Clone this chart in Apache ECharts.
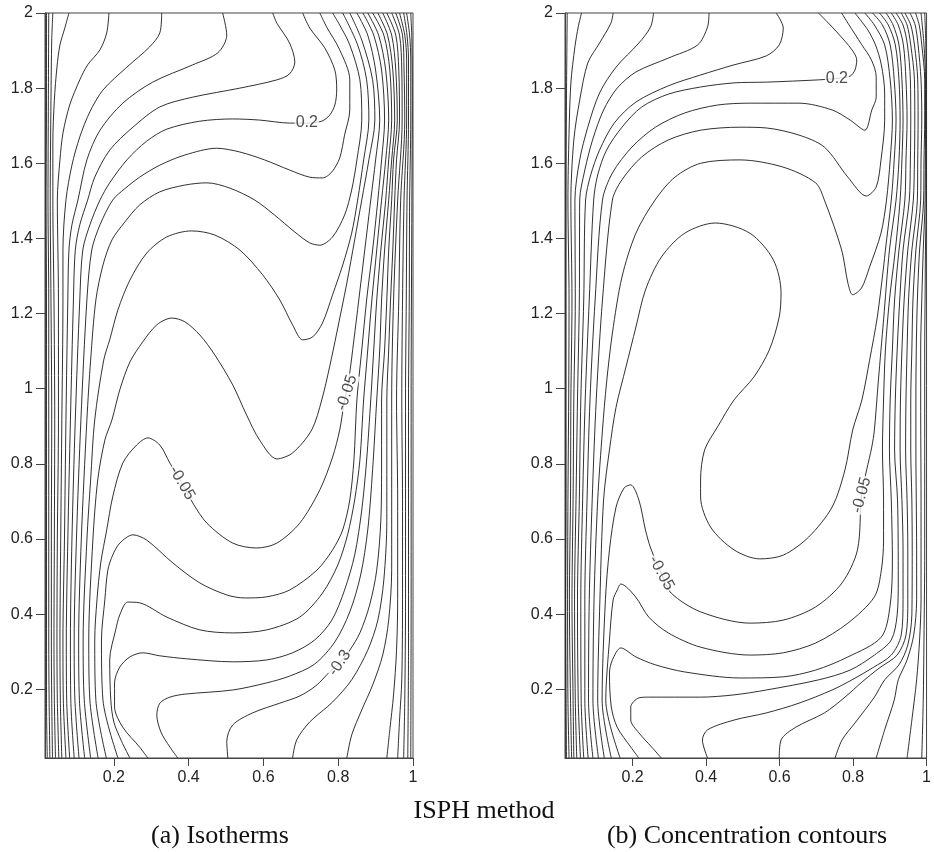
<!DOCTYPE html>
<html>
<head>
<meta charset="utf-8">
<script src="https://cdn.jsdelivr.net/npm/echarts@6/dist/echarts.min.js"></script>
<style>
html, body { margin: 0; padding: 0; background: #fff; }
#chart { width: 934px; height: 852px; }
</style>
</head>
<body>
<div id="chart"></div>
<script>
var xTicks = [0.2, 0.4, 0.6, 0.8, 1];
var yTicks = [0.2, 0.4, 0.6, 0.8, 1, 1.2, 1.4, 1.6, 1.8, 2];

// (a) isotherms: every contour as [x, y] points, left wall to right wall
var isothermLines = [
  [[0.022,0.017],[0.020,0.171],[0.020,0.331],[0.020,0.597],[0.020,0.917],[0.020,1.236],[0.019,1.502],[0.020,1.768],[0.020,2]],
  [[0.029,0.017],[0.027,0.171],[0.026,0.331],[0.026,0.597],[0.026,0.917],[0.026,1.236],[0.024,1.502],[0.025,1.768],[0.026,2]],
  [[0.036,0.017],[0.034,0.171],[0.033,0.331],[0.033,0.597],[0.034,0.917],[0.032,1.236],[0.030,1.502],[0.032,1.768],[0.034,1.928],[0.037,2]],
  [[0.044,0.017],[0.041,0.171],[0.040,0.331],[0.041,0.597],[0.042,0.917],[0.040,1.236],[0.037,1.502],[0.037,1.654],[0.041,1.768],[0.048,1.856],[0.056,1.915],[0.069,1.960],[0.080,2]],
  [[0.053,0.017],[0.049,0.171],[0.048,0.331],[0.049,0.597],[0.052,0.917],[0.052,1.236],[0.049,1.502],[0.056,1.609],[0.064,1.680],[0.082,1.755],[0.109,1.822],[0.130,1.862],[0.163,1.902],[0.181,1.947],[0.187,2]],
  [[0.061,0.017],[0.057,0.171],[0.056,0.331],[0.058,0.597],[0.061,0.917],[0.064,1.236],[0.064,1.369],[0.072,1.502],[0.088,1.595],[0.109,1.670],[0.136,1.737],[0.171,1.795],[0.235,1.856],[0.296,1.910],[0.323,1.947],[0.328,2]],
  [[0.072,0.017],[0.065,0.171],[0.064,0.331],[0.068,0.597],[0.072,0.917],[0.077,1.236],[0.080,1.369],[0.088,1.436],[0.104,1.502],[0.128,1.609],[0.163,1.688],[0.224,1.760],[0.304,1.816],[0.411,1.862],[0.478,1.894],[0.502,1.941],[0.491,2]],
  [[0.082,0.017],[0.074,0.171],[0.073,0.331],[0.077,0.597],[0.084,0.917],[0.092,1.236],[0.097,1.369],[0.109,1.436],[0.130,1.502],[0.149,1.563],[0.189,1.635],[0.251,1.696],[0.323,1.750],[0.411,1.776],[0.537,1.800],[0.636,1.822],[0.670,1.838],[0.684,1.869],[0.670,1.920],[0.636,1.973],[0.625,2]],
  [[0.094,0.017],[0.085,0.171],[0.084,0.331],[0.088,0.597],[0.097,0.917],[0.109,1.236],[0.117,1.369],[0.136,1.436],[0.163,1.502],[0.189,1.548],[0.235,1.609],[0.288,1.659],[0.342,1.691],[0.430,1.712],[0.518,1.718],[0.590,1.715],[0.670,1.707],[0.716,1.707],[0.756,1.712],[0.777,1.728],[0.791,1.755],[0.796,1.795],[0.791,1.848],[0.764,1.907],[0.724,1.960],[0.705,2]],
  [[0.107,0.017],[0.096,0.171],[0.094,0.331],[0.100,0.597],[0.112,0.917],[0.128,1.236],[0.141,1.369],[0.163,1.436],[0.197,1.502],[0.229,1.532],[0.269,1.563],[0.323,1.595],[0.390,1.622],[0.475,1.640],[0.537,1.630],[0.603,1.609],[0.670,1.582],[0.724,1.563],[0.758,1.561],[0.783,1.577],[0.804,1.614],[0.817,1.675],[0.831,1.742],[0.831,1.822],[0.804,1.902],[0.769,1.963],[0.751,2]],
  [[0.122,0.017],[0.108,0.171],[0.106,0.331],[0.113,0.597],[0.128,0.917],[0.138,1.076],[0.152,1.236],[0.171,1.329],[0.195,1.396],[0.229,1.443],[0.269,1.489],[0.323,1.524],[0.390,1.542],[0.449,1.548],[0.510,1.534],[0.577,1.502],[0.630,1.462],[0.684,1.417],[0.724,1.388],[0.751,1.382],[0.785,1.404],[0.817,1.462],[0.836,1.529],[0.850,1.609],[0.863,1.715],[0.858,1.822],[0.831,1.915],[0.804,1.968],[0.785,2]],
  [[0.138,0.017],[0.121,0.171],[0.118,0.331],[0.128,0.597],[0.138,0.757],[0.149,0.917],[0.173,1.076],[0.189,1.130],[0.211,1.210],[0.243,1.289],[0.288,1.361],[0.342,1.404],[0.408,1.420],[0.470,1.409],[0.537,1.369],[0.598,1.303],[0.644,1.236],[0.678,1.170],[0.705,1.130],[0.732,1.138],[0.758,1.175],[0.785,1.250],[0.812,1.329],[0.836,1.414],[0.852,1.502],[0.868,1.609],[0.882,1.715],[0.876,1.822],[0.852,1.915],[0.812,2]],
  [[0.158,0.017],[0.136,0.171],[0.133,0.331],[0.144,0.597],[0.157,0.757],[0.176,0.863],[0.195,0.917],[0.216,0.997],[0.243,1.071],[0.277,1.124],[0.315,1.170],[0.355,1.188],[0.390,1.178],[0.430,1.143],[0.470,1.090],[0.518,1.010],[0.555,0.930],[0.590,0.863],[0.636,0.813],[0.678,0.829],[0.729,0.890],[0.756,0.970],[0.777,1.058],[0.796,1.148],[0.823,1.281],[0.844,1.396],[0.863,1.502],[0.882,1.609],[0.898,1.715],[0.892,1.822],[0.863,1.928],[0.831,2]],
  [[0.180,0.017],[0.152,0.171],[0.149,0.331],[0.155,0.438],[0.165,0.536],[0.181,0.624],[0.197,0.712],[0.224,0.802],[0.261,0.850],[0.291,0.869],[0.323,0.850],[0.350,0.802],[0.382,0.749],[0.411,0.696],[0.449,0.642],[0.518,0.589],[0.582,0.576],[0.636,0.589],[0.697,0.642],[0.751,0.731],[0.785,0.818],[0.804,0.890],[0.817,0.970],[0.828,1.023],[0.842,1.130],[0.855,1.236],[0.871,1.369],[0.887,1.502],[0.900,1.609],[0.911,1.715],[0.900,1.848],[0.879,1.941],[0.850,2]],
  [[0.211,0.017],[0.171,0.171],[0.167,0.331],[0.176,0.438],[0.184,0.517],[0.197,0.557],[0.216,0.589],[0.251,0.611],[0.288,0.597],[0.358,0.536],[0.430,0.483],[0.502,0.451],[0.550,0.443],[0.609,0.446],[0.670,0.464],[0.743,0.517],[0.785,0.571],[0.812,0.624],[0.831,0.704],[0.842,0.810],[0.850,0.970],[0.863,1.103],[0.876,1.236],[0.892,1.369],[0.906,1.502],[0.916,1.609],[0.924,1.715],[0.916,1.848],[0.895,1.941],[0.866,2]],
  [[0.243,0.017],[0.221,0.061],[0.200,0.113],[0.192,0.171],[0.189,0.278],[0.205,0.358],[0.216,0.398],[0.237,0.432],[0.269,0.430],[0.342,0.392],[0.430,0.358],[0.518,0.350],[0.609,0.358],[0.697,0.392],[0.758,0.456],[0.799,0.531],[0.825,0.611],[0.844,0.704],[0.858,0.810],[0.868,0.970],[0.879,1.103],[0.890,1.236],[0.903,1.369],[0.916,1.502],[0.927,1.609],[0.935,1.715],[0.927,1.848],[0.908,1.941],[0.879,2]],
  [[0.291,0.017],[0.269,0.046],[0.224,0.099],[0.202,0.153],[0.202,0.217],[0.216,0.259],[0.243,0.286],[0.277,0.297],[0.323,0.289],[0.395,0.281],[0.518,0.273],[0.609,0.278],[0.678,0.297],[0.737,0.331],[0.783,0.384],[0.817,0.464],[0.844,0.557],[0.863,0.677],[0.876,0.810],[0.887,0.970],[0.895,1.103],[0.903,1.236],[0.914,1.369],[0.927,1.502],[0.935,1.609],[0.943,1.715],[0.938,1.848],[0.922,1.941],[0.892,2]],
  [[0.371,0.017],[0.350,0.046],[0.326,0.086],[0.315,0.131],[0.323,0.163],[0.350,0.179],[0.390,0.187],[0.518,0.198],[0.609,0.217],[0.670,0.235],[0.737,0.267],[0.791,0.326],[0.831,0.406],[0.860,0.504],[0.879,0.624],[0.892,0.784],[0.903,0.970],[0.911,1.103],[0.916,1.236],[0.924,1.369],[0.935,1.502],[0.943,1.609],[0.951,1.715],[0.946,1.848],[0.932,1.941],[0.906,2]],
  [[0.505,0.017],[0.502,0.061],[0.518,0.105],[0.571,0.137],[0.644,0.163],[0.697,0.182],[0.740,0.209],[0.777,0.246],[0.804,0.270],[0.831,0.304],[0.858,0.350],[0.884,0.424],[0.903,0.517],[0.914,0.650],[0.916,0.810],[0.916,0.970],[0.924,1.103],[0.930,1.236],[0.935,1.369],[0.943,1.502],[0.948,1.609],[0.958,1.715],[0.954,1.848],[0.943,1.941],[0.919,2]],
  [[0.678,0.017],[0.689,0.065],[0.724,0.113],[0.785,0.166],[0.836,0.225],[0.879,0.304],[0.906,0.384],[0.922,0.491],[0.930,0.650],[0.930,0.810],[0.930,0.970],[0.935,1.103],[0.940,1.236],[0.946,1.369],[0.951,1.502],[0.956,1.609],[0.964,1.715],[0.962,1.848],[0.954,1.941],[0.930,2]],
  [[0.823,0.017],[0.836,0.078],[0.863,0.145],[0.892,0.211],[0.919,0.291],[0.935,0.384],[0.943,0.517],[0.943,0.704],[0.943,0.970],[0.948,1.236],[0.959,1.502],[0.971,1.715],[0.970,1.848],[0.964,1.941],[0.943,2]],
  [[0.930,0.017],[0.938,0.092],[0.948,0.185],[0.956,0.304],[0.959,0.438],[0.959,0.704],[0.956,0.970],[0.962,1.236],[0.967,1.502],[0.978,1.715],[0.976,1.848],[0.972,1.941],[0.954,2]],
  [[0.959,0.017],[0.964,0.118],[0.970,0.225],[0.972,0.438],[0.972,0.704],[0.970,0.970],[0.972,1.236],[0.976,1.502],[0.983,1.715],[0.983,1.875],[0.978,1.941],[0.964,2]],
  [[0.975,0.017],[0.978,0.171],[0.980,0.438],[0.980,0.704],[0.980,0.970],[0.982,1.236],[0.984,1.502],[0.988,1.715],[0.988,1.875],[0.984,1.941],[0.975,2]],
  [[0.986,0.017],[0.988,0.304],[0.988,0.704],[0.988,0.970],[0.990,1.236],[0.991,1.502],[0.994,1.715],[0.994,1.875],[0.991,1.941],[0.983,2]],
  [[0.994,0.017],[0.995,0.438],[0.995,0.970],[0.997,1.502],[0.998,1.768],[0.997,1.928],[0.994,2]]
];
// [x, y, text, angle]
var isothermLabels = [
  [0.716, 1.707, '0.2', 0],
  [0.823, 0.989, '-0.05', 72],
  [0.382, 0.749, '-0.05', -60],
  [0.804, 0.270, '-0.3', 55]
];

// (b) concentration contours
var concentrationLines = [
  [[0.020,0.017],[0.019,0.171],[0.018,0.438],[0.019,0.704],[0.019,0.970],[0.019,1.236],[0.019,1.502],[0.020,1.768],[0.022,2]],
  [[0.027,0.017],[0.024,0.171],[0.023,0.438],[0.024,0.704],[0.026,0.970],[0.027,1.236],[0.024,1.502],[0.027,1.680],[0.032,1.814],[0.043,1.910],[0.052,1.963],[0.061,2]],
  [[0.034,0.017],[0.031,0.171],[0.028,0.438],[0.031,0.704],[0.032,0.970],[0.035,1.236],[0.032,1.502],[0.040,1.662],[0.056,1.768],[0.078,1.867],[0.110,1.920],[0.141,1.973],[0.147,2]],
  [[0.040,0.017],[0.038,0.171],[0.035,0.438],[0.038,0.704],[0.040,0.970],[0.044,1.236],[0.043,1.502],[0.056,1.609],[0.078,1.696],[0.110,1.787],[0.155,1.856],[0.217,1.920],[0.249,1.963],[0.257,2]],
  [[0.048,0.017],[0.044,0.171],[0.042,0.438],[0.046,0.704],[0.050,0.970],[0.055,1.236],[0.056,1.502],[0.070,1.582],[0.091,1.662],[0.121,1.742],[0.158,1.800],[0.209,1.843],[0.297,1.880],[0.377,1.915],[0.404,1.963],[0.408,2]],
  [[0.058,0.017],[0.052,0.171],[0.050,0.438],[0.055,0.704],[0.059,0.970],[0.067,1.236],[0.072,1.502],[0.086,1.569],[0.110,1.635],[0.150,1.707],[0.209,1.763],[0.297,1.806],[0.385,1.835],[0.476,1.862],[0.564,1.886],[0.599,1.915],[0.610,1.960],[0.591,2]],
  [[0.067,0.017],[0.060,0.171],[0.059,0.438],[0.064,0.704],[0.071,0.970],[0.082,1.236],[0.094,1.502],[0.105,1.569],[0.129,1.635],[0.171,1.696],[0.225,1.750],[0.297,1.784],[0.385,1.803],[0.476,1.814],[0.564,1.816],[0.706,1.822],[0.756,1.826],[0.792,1.832],[0.805,1.848],[0.810,1.875],[0.797,1.902],[0.758,1.947],[0.733,1.973],[0.706,2]],
  [[0.079,0.017],[0.070,0.171],[0.070,0.438],[0.076,0.704],[0.084,0.970],[0.098,1.236],[0.118,1.502],[0.145,1.574],[0.198,1.643],[0.262,1.696],[0.342,1.734],[0.431,1.755],[0.519,1.760],[0.653,1.760],[0.743,1.742],[0.792,1.715],[0.832,1.688],[0.851,1.742],[0.863,1.776],[0.863,1.830],[0.850,1.875],[0.824,1.915],[0.786,1.973],[0.769,2]],
  [[0.092,0.017],[0.080,0.171],[0.082,0.438],[0.090,0.704],[0.101,0.970],[0.118,1.236],[0.145,1.502],[0.171,1.556],[0.225,1.617],[0.297,1.662],[0.385,1.688],[0.492,1.696],[0.564,1.694],[0.653,1.675],[0.722,1.643],[0.786,1.563],[0.836,1.513],[0.863,1.537],[0.876,1.609],[0.886,1.715],[0.886,1.787],[0.877,1.862],[0.861,1.915],[0.840,1.955],[0.805,2]],
  [[0.107,0.017],[0.092,0.171],[0.095,0.438],[0.105,0.704],[0.118,0.890],[0.129,1.015],[0.145,1.148],[0.171,1.297],[0.209,1.414],[0.261,1.502],[0.315,1.563],[0.385,1.600],[0.492,1.609],[0.609,1.590],[0.698,1.548],[0.722,1.502],[0.769,1.369],[0.786,1.281],[0.799,1.250],[0.823,1.268],[0.845,1.324],[0.876,1.414],[0.891,1.502],[0.901,1.609],[0.907,1.715],[0.901,1.822],[0.886,1.915],[0.858,1.968],[0.832,2]],
  [[0.123,0.017],[0.105,0.171],[0.111,0.438],[0.121,0.704],[0.137,0.837],[0.155,0.951],[0.182,1.058],[0.209,1.164],[0.235,1.263],[0.278,1.350],[0.342,1.414],[0.425,1.441],[0.519,1.414],[0.583,1.343],[0.604,1.255],[0.599,1.191],[0.572,1.103],[0.530,1.031],[0.476,0.970],[0.431,0.898],[0.396,0.837],[0.385,0.757],[0.385,0.712],[0.412,0.632],[0.476,0.571],[0.546,0.547],[0.610,0.557],[0.679,0.605],[0.743,0.685],[0.778,0.784],[0.799,0.890],[0.824,0.970],[0.845,1.076],[0.866,1.191],[0.883,1.324],[0.888,1.369],[0.904,1.502],[0.912,1.609],[0.917,1.715],[0.912,1.822],[0.901,1.915],[0.880,1.968],[0.853,2]],
  [[0.142,0.017],[0.117,0.171],[0.126,0.438],[0.137,0.571],[0.155,0.685],[0.177,0.736],[0.195,0.744],[0.217,0.704],[0.235,0.624],[0.249,0.576],[0.278,0.509],[0.305,0.456],[0.385,0.406],[0.519,0.376],[0.610,0.384],[0.698,0.419],[0.770,0.483],[0.812,0.571],[0.823,0.717],[0.837,0.784],[0.851,0.845],[0.858,0.890],[0.869,1.023],[0.883,1.183],[0.899,1.369],[0.917,1.502],[0.925,1.609],[0.928,1.715],[0.925,1.822],[0.915,1.915],[0.896,1.968],[0.872,2]],
  [[0.166,0.017],[0.127,0.171],[0.137,0.331],[0.147,0.438],[0.158,0.464],[0.168,0.480],[0.208,0.446],[0.244,0.392],[0.297,0.350],[0.385,0.312],[0.519,0.291],[0.610,0.297],[0.698,0.323],[0.786,0.376],[0.858,0.446],[0.877,0.517],[0.883,0.597],[0.883,0.704],[0.880,0.837],[0.883,0.970],[0.888,1.103],[0.899,1.236],[0.915,1.369],[0.928,1.502],[0.933,1.609],[0.936,1.715],[0.933,1.822],[0.925,1.915],[0.909,1.968],[0.890,2]],
  [[0.217,0.017],[0.195,0.046],[0.158,0.099],[0.142,0.153],[0.137,0.243],[0.145,0.278],[0.168,0.310],[0.209,0.286],[0.262,0.265],[0.342,0.246],[0.492,0.230],[0.610,0.233],[0.698,0.251],[0.786,0.286],[0.877,0.339],[0.901,0.424],[0.907,0.544],[0.904,0.704],[0.899,0.837],[0.901,0.970],[0.907,1.103],[0.913,1.236],[0.925,1.369],[0.941,1.502],[0.944,1.609],[0.947,1.715],[0.944,1.822],[0.937,1.915],[0.923,1.968],[0.904,2]],
  [[0.278,0.017],[0.252,0.046],[0.217,0.084],[0.195,0.118],[0.195,0.153],[0.217,0.177],[0.244,0.179],[0.385,0.179],[0.476,0.185],[0.564,0.198],[0.706,0.225],[0.792,0.251],[0.858,0.291],[0.904,0.331],[0.920,0.398],[0.923,0.491],[0.921,0.704],[0.913,0.837],[0.915,0.970],[0.920,1.103],[0.927,1.236],[0.936,1.369],[0.953,1.502],[0.956,1.609],[0.957,1.715],[0.956,1.822],[0.948,1.915],[0.936,1.968],[0.917,2]],
  [[0.404,0.017],[0.390,0.065],[0.404,0.092],[0.476,0.118],[0.564,0.137],[0.653,0.163],[0.743,0.198],[0.797,0.225],[0.853,0.257],[0.904,0.291],[0.931,0.344],[0.936,0.438],[0.936,0.571],[0.933,0.704],[0.928,0.837],[0.929,0.970],[0.933,1.103],[0.939,1.236],[0.949,1.369],[0.964,1.502],[0.967,1.609],[0.968,1.715],[0.967,1.822],[0.957,1.915],[0.947,1.968],[0.931,2]],
  [[0.599,0.017],[0.604,0.065],[0.644,0.099],[0.722,0.137],[0.778,0.179],[0.824,0.219],[0.872,0.257],[0.920,0.291],[0.944,0.344],[0.949,0.438],[0.949,0.571],[0.947,0.704],[0.943,0.837],[0.944,0.970],[0.947,1.103],[0.951,1.236],[0.960,1.369],[0.975,1.502],[0.976,1.609],[0.977,1.715],[0.976,1.822],[0.967,1.915],[0.957,1.968],[0.941,2]],
  [[0.751,0.017],[0.770,0.065],[0.805,0.110],[0.858,0.179],[0.886,0.225],[0.925,0.265],[0.949,0.318],[0.960,0.398],[0.961,0.571],[0.960,0.704],[0.957,0.837],[0.957,0.970],[0.960,1.103],[0.963,1.236],[0.971,1.369],[0.984,1.502],[0.985,1.609],[0.987,1.715],[0.985,1.822],[0.977,1.915],[0.969,1.968],[0.955,2]],
  [[0.863,0.017],[0.886,0.092],[0.912,0.171],[0.923,0.225],[0.947,0.278],[0.965,0.344],[0.973,0.438],[0.973,0.571],[0.972,0.704],[0.971,0.837],[0.971,0.970],[0.972,1.103],[0.975,1.236],[0.981,1.369],[0.992,1.502],[0.993,1.609],[0.995,1.715],[0.995,1.822],[0.987,1.915],[0.980,1.968],[0.970,2]],
  [[0.947,0.017],[0.960,0.118],[0.973,0.225],[0.981,0.331],[0.985,0.438],[0.985,0.704],[0.984,0.970],[0.984,1.103],[0.987,1.236],[0.991,1.369],[0.996,1.502],[0.997,1.715],[0.997,1.822],[0.993,1.915],[0.985,2]],
  [[0.987,0.017],[0.991,0.171],[0.993,0.331],[0.995,0.571],[0.995,0.837],[0.995,1.103],[0.996,1.236],[0.997,1.369],[0.999,1.502],[0.999,1.768],[0.998,1.915],[0.995,2]]
];
var concentrationLabels = [
  [0.756, 1.826, '0.2', 0],
  [0.823, 0.717, '-0.05', 75],
  [0.278, 0.509, '-0.05', -61]
];

var axisColor = '#444';
var labelFont = 'Liberation Sans';

function tickText(v) {
  return String(+v.toFixed(1));
}

function makeXAxis(idx) {
  return {
    type: 'value', gridIndex: idx, min: 0.016, max: 1,
    axisLine: { show: true, lineStyle: { color: axisColor, width: 1 } },
    axisTick: { show: true, customValues: xTicks, length: 8, lineStyle: { color: axisColor } },
    axisLabel: { customValues: xTicks, margin: 12, fontSize: 16, color: '#222', fontFamily: labelFont, formatter: tickText },
    splitLine: { show: false }
  };
}

function makeYAxis(idx) {
  return {
    type: 'value', gridIndex: idx, min: 0.017, max: 2,
    axisLine: { show: true, lineStyle: { color: axisColor, width: 1 } },
    axisTick: { show: true, customValues: yTicks, length: 9, lineStyle: { color: axisColor } },
    axisLabel: { customValues: yTicks, margin: 12, fontSize: 16, color: '#222', fontFamily: labelFont, formatter: tickText },
    splitLine: { show: false }
  };
}

function panelSeries(lines, labels, idx) {
  var out = [];
  for (var i = 0; i < lines.length; i++) {
    out.push({
      type: 'line', xAxisIndex: idx, yAxisIndex: idx,
      data: lines[i], symbol: 'none', smooth: 0.3, silent: true, z: 2,
      lineStyle: { color: '#1a1a1a', width: 0.9 }
    });
  }
  out.push({
    type: 'scatter', xAxisIndex: idx, yAxisIndex: idx, silent: true, z: 5,
    symbolSize: 1, itemStyle: { color: 'rgba(0,0,0,0)' },
    data: labels.map(function(l) {
      return {
        value: [l[0], l[1]],
        label: {
          show: true, position: 'inside', formatter: l[2], rotate: l[3],
          fontSize: 16, fontFamily: labelFont, color: '#222',
          backgroundColor: '#fff', padding: [0, 1]
        }
      };
    })
  });
  return out;
}

var myChart = echarts.init(document.getElementById('chart'), null, { renderer: 'canvas' });

var option = {
  animation: false,
  backgroundColor: '#fff',
  grid: [
    { left: 45, top: 13, width: 368, height: 745, show: true, borderColor: axisColor, borderWidth: 1 },
    { left: 565, top: 13, width: 368, height: 745, show: true, borderColor: axisColor, borderWidth: 1 }
  ],
  xAxis: [makeXAxis(0), makeXAxis(1)],
  yAxis: [makeYAxis(0), makeYAxis(1)],
  series: panelSeries(isothermLines, isothermLabels, 0).concat(panelSeries(concentrationLines, concentrationLabels, 1)),
  graphic: [
    { type: 'text', x: 484, y: 811, style: { text: 'ISPH method', font: '26px "Liberation Serif"', fill: '#111', align: 'center', verticalAlign: 'middle' } },
    { type: 'text', x: 220, y: 836, style: { text: '(a) Isotherms', font: '26px "Liberation Serif"', fill: '#111', align: 'center', verticalAlign: 'middle' } },
    { type: 'text', x: 747, y: 836, style: { text: '(b) Concentration contours', font: '26px "Liberation Serif"', fill: '#111', align: 'center', verticalAlign: 'middle' } }
  ]
};

myChart.setOption(option);
</script>
</body>
</html>
